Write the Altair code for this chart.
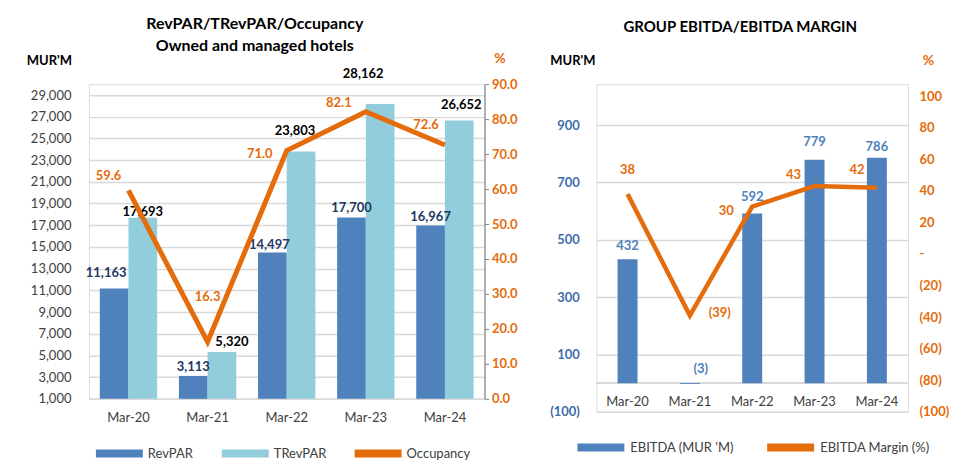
import altair as alt
import pandas as pd

# ---------------- data ----------------
periods = ["Mar-20", "Mar-21", "Mar-22", "Mar-23", "Mar-24"]
revpar = [11163, 3113, 14497, 17700, 16967]
trevpar = [17693, 5320, 23803, 28162, 26652]
occupancy = [59.6, 16.3, 71.0, 82.1, 72.6]
ebitda = [432, -3, 592, 779, 786]
ebitda_margin = [38, -39, 30, 43, 42]

FONT = "Lato"
BLUE = "#4F81BD"
LIGHT = "#92CDDC"
ORANGE = "#E46C0A"
GRID = "#D9D9D9"
NAVY = "#1F3864"
TEXT = "#404040"
AXBLUE = "#3F6DAA"
FS = 13

RECT = "M-1,-0.17H1V0.17H-1Z"


def paren(v):
    return f"({abs(v):,})" if v < 0 else f"{v:,}"


bars_df = pd.DataFrame(
    {
        "period": periods * 2,
        "series": ["RevPAR"] * 5 + ["TRevPAR"] * 5,
        "value": revpar + trevpar,
    }
)
bars_df["label"] = bars_df["value"].map(lambda v: f"{v:,}")
occ_df = pd.DataFrame({"period": periods, "occ": occupancy})
occ_df["label"] = occ_df["occ"].map(lambda v: f"{v:.1f}")

eb_df = pd.DataFrame({"period": periods, "ebitda": ebitda, "margin": ebitda_margin})
eb_df["elabel"] = eb_df["ebitda"].map(paren)
eb_df["mlabel"] = eb_df["margin"].map(paren)
eb_df["metric"] = "EBITDA (MUR 'M)"

lab_common = dict(font=FONT, fontSize=FS, fontWeight="bold", baseline="middle")

# ---------------- left panel ----------------
W1, H1 = 396, 315
xs1 = alt.Scale(domain=periods, paddingInner=0.275, paddingOuter=0.1375)
x1 = alt.X(
    "period:N",
    scale=xs1,
    sort=periods,
    title=None,
    axis=alt.Axis(
        labelAngle=0,
        labelFont=FONT,
        labelFontSize=FS,
        labelColor=TEXT,
        labelPadding=13,
        ticks=False,
        domainColor=GRID,
        domainWidth=1.5,
    ),
)
ys1 = alt.Scale(domain=[1000, 30000], zero=False, nice=False)
y1_axis = alt.Axis(
    values=list(range(1000, 30000, 2000)),
    tickCount=40,
    format=",d",
    labelOverlap=False,
    labelFont=FONT,
    labelFontSize=FS,
    labelColor=TEXT,
    labelPadding=18,
    ticks=False,
    domain=False,
    grid=True,
    gridColor=GRID,
    gridWidth=1.5,
    title="MUR'M",
    titleAngle=0,
    titleFont=FONT,
    titleFontSize=13,
    titleFontWeight="bold",
    titleColor="#000000",
    titleX=-40,
    titleY=-24,
    titleAlign="center",
    titleBaseline="middle",
)

color1 = alt.Color(
    "series:N",
    scale=alt.Scale(
        domain=["RevPAR", "TRevPAR", "Occupancy"], range=[BLUE, LIGHT, ORANGE]
    ),
    legend=alt.Legend(
        title=None,
        orient="none",
        direction="horizontal",
        legendX=7,
        legendY=346,
        symbolType=RECT,
        symbolSize=2209,
        symbolStrokeWidth=0,
        symbolOpacity=1,
        labelFont=FONT,
        labelFontSize=FS,
        labelColor=TEXT,
        labelOffset=5,
        columnPadding=28,
        padding=0,
    ),
)

base1 = alt.Chart(bars_df)
bars1 = base1.mark_bar().encode(
    x=x1,
    xOffset=alt.XOffset("series:N", sort=["RevPAR", "TRevPAR"]),
    y=alt.Y("value:Q", scale=ys1, axis=y1_axis),
    y2=alt.datum(1000),
    color=color1,
)

# label placement (styling): series, period, dx, dy
bar_label_spots = [
    ("RevPAR", "Mar-20", -8, -16),
    ("RevPAR", "Mar-21", 0, -9),
    ("RevPAR", "Mar-22", -3, -7),
    ("RevPAR", "Mar-23", 0, -10),
    ("RevPAR", "Mar-24", 0, -9),
    ("TRevPAR", "Mar-20", 0, -6),
    ("TRevPAR", "Mar-21", 10, -10),
    ("TRevPAR", "Mar-22", -6, -20),
    ("TRevPAR", "Mar-23", -17, -30),
    ("TRevPAR", "Mar-24", 2, -16),
]
bar_label_layers = []
for s, p, dx, dy in bar_label_spots:
    bar_label_layers.append(
        base1.transform_filter((alt.datum.series == s) & (alt.datum.period == p))
        .mark_text(color=NAVY if s == "RevPAR" else "#000000", dx=dx, dy=dy, **lab_common)
        .encode(
            x=alt.X("period:N", scale=xs1, sort=periods),
            xOffset=alt.XOffset("series:N", sort=["RevPAR", "TRevPAR"]),
            y=alt.Y("value:Q", scale=ys1, axis=y1_axis),
            text="label:N",
        )
    )
left_bars = alt.layer(bars1, *bar_label_layers)

ys1b = alt.Scale(domain=[0, 90], nice=False)
y1b_axis = alt.Axis(
    orient="right",
    values=list(range(0, 100, 10)),
    tickCount=40,
    format=".1f",
    labelOverlap=False,
    labelFont=FONT,
    labelFontSize=FS,
    labelFontWeight="bold",
    labelColor=ORANGE,
    labelPadding=3,
    ticks=True,
    tickSize=4,
    tickColor="#868686",
    domain=True,
    domainColor="#868686",
    domainWidth=1.2,
    grid=False,
    title="%",
    titleAngle=0,
    titleFont=FONT,
    titleFontSize=14,
    titleFontWeight="bold",
    titleColor=ORANGE,
    titleX=15,
    titleY=-26,
    titleAlign="center",
    titleBaseline="middle",
)
occ_base = alt.Chart(occ_df)
occ_line = occ_base.mark_line(color=ORANGE, strokeWidth=5).encode(
    x=alt.X("period:N", scale=xs1, sort=periods),
    y=alt.Y("occ:Q", scale=ys1b, axis=y1b_axis),
)

occ_label_spots = [
    ("Mar-20", -20, -14),
    ("Mar-21", 0, -45),
    ("Mar-22", -27, 3),
    ("Mar-23", -27, -9),
    ("Mar-24", -19, -20),
]
occ_layers = [occ_line]
for p, dx, dy in occ_label_spots:
    occ_layers.append(
        occ_base.transform_filter(alt.datum.period == p)
        .mark_text(color=ORANGE, dx=dx, dy=dy, **lab_common)
        .encode(
            x=alt.X("period:N", scale=xs1, sort=periods),
            y=alt.Y("occ:Q", scale=ys1b, axis=y1b_axis),
            text="label:N",
        )
    )
left_line = alt.layer(*occ_layers)

left = (
    alt.layer(left_bars, left_line)
    .resolve_scale(y="independent")
    .properties(
        width=W1,
        height=H1,
        title=alt.TitleParams(
            ["RevPAR/TRevPAR/Occupancy", "Owned and managed hotels"],
            font=FONT,
            fontSize=16,
            fontWeight="bold",
            color="#000000",
            anchor="middle",
            frame="group",
            dx=-32,
            offset=-3,
            lineHeight=22,
        ),
    )
)

# ---------------- right panel ----------------
W2, H2 = 312, 328
xs2 = alt.Scale(domain=periods, paddingInner=0.68, paddingOuter=0.34)
ys2 = alt.Scale(domain=[-100, 1043], nice=False, zero=False)
y2_axis = alt.Axis(
    values=list(range(-100, 1000, 200)),
    tickCount=40,
    labelExpr="datum.value < 0 ? '(' + format(-datum.value, ',') + ')' : format(datum.value, ',')",
    labelOverlap=False,
    labelFont=FONT,
    labelFontSize=FS,
    labelFontWeight="bold",
    labelColor=AXBLUE,
    labelPadding=17,
    ticks=False,
    domain=False,
    grid=True,
    gridColor=GRID,
    gridWidth=1.5,
    title="MUR'M",
    titleAngle=0,
    titleFont=FONT,
    titleFontSize=13,
    titleFontWeight="bold",
    titleColor="#000000",
    titleX=-24,
    titleY=-24,
    titleAlign="center",
    titleBaseline="middle",
)
eb_base = alt.Chart(eb_df)
x2 = alt.X("period:N", scale=xs2, sort=periods, axis=None)
eb_bars = eb_base.mark_bar().encode(
    x=x2,
    y=alt.Y("ebitda:Q", scale=ys2, axis=y2_axis),
    y2=alt.datum(0),
    color=alt.Color(
        "metric:N",
        scale=alt.Scale(
            domain=["EBITDA (MUR 'M)", "EBITDA Margin (%)"], range=[BLUE, ORANGE]
        ),
        legend=alt.Legend(
            title=None,
            orient="none",
            direction="horizontal",
            legendX=-19,
            legendY=340,
            symbolType=RECT,
            symbolSize=2209,
            symbolStrokeWidth=0,
            symbolOpacity=1,
            labelFont=FONT,
            labelFontSize=FS,
            labelColor=TEXT,
            labelOffset=6,
            columnPadding=33,
            padding=0,
        ),
    ),
)
zero_rule = eb_base.mark_rule(color=GRID, strokeWidth=1.5).encode(
    y=alt.datum(0, scale=ys2, axis=y2_axis)
)

eb_label_spots = [
    ("Mar-20", 0, -13),
    ("Mar-21", 11, -15),
    ("Mar-22", 0, -16),
    ("Mar-23", 0, -18),
    ("Mar-24", 0, -11),
]
right_bar_layers = [zero_rule, eb_bars]
for p, dx, dy in eb_label_spots:
    right_bar_layers.append(
        eb_base.transform_filter(alt.datum.period == p)
        .mark_text(color=BLUE, dx=dx, dy=dy, **lab_common)
        .encode(
            x=alt.X("period:N", scale=xs2, sort=periods),
            y=alt.Y("ebitda:Q", scale=ys2, axis=y2_axis),
            text="elabel:N",
        )
    )
x_labels = eb_base.mark_text(
    font=FONT, fontSize=FS, color=TEXT, baseline="middle", dy=19
).encode(
    x=alt.X("period:N", scale=xs2, sort=periods),
    y=alt.datum(0, scale=ys2, axis=y2_axis),
    text="period:N",
)
right_bar_layers.append(x_labels)
right_bars = alt.layer(*right_bar_layers)

ys2b = alt.Scale(domain=[-100, 107.6], nice=False, zero=False)
y2b_axis = alt.Axis(
    orient="right",
    values=list(range(-100, 101, 20)),
    tickCount=40,
    labelExpr="datum.value < 0 ? '(' + format(-datum.value, 'd') + ')' : (datum.value == 0 ? '-' : format(datum.value, 'd'))",
    labelOverlap=False,
    labelFont=FONT,
    labelFontSize=FS,
    labelFontWeight="bold",
    labelColor=ORANGE,
    labelPadding=11,
    ticks=False,
    domain=False,
    grid=False,
    title="%",
    titleAngle=0,
    titleFont=FONT,
    titleFontSize=14,
    titleFontWeight="bold",
    titleColor=ORANGE,
    titleX=20,
    titleY=-24,
    titleAlign="center",
    titleBaseline="middle",
)
m_line = eb_base.mark_line(color=ORANGE, strokeWidth=4.5).encode(
    x=alt.X("period:N", scale=xs2, sort=periods),
    y=alt.Y("margin:Q", scale=ys2b, axis=y2b_axis),
)
m_label_spots = [
    ("Mar-20", 0, -24),
    ("Mar-21", 30, -3),
    ("Mar-22", -26, 4),
    ("Mar-23", -21, -11),
    ("Mar-24", -20, -18),
]
m_layers = [m_line]
for p, dx, dy in m_label_spots:
    m_layers.append(
        eb_base.transform_filter(alt.datum.period == p)
        .mark_text(color=ORANGE, dx=dx, dy=dy, **lab_common)
        .encode(
            x=alt.X("period:N", scale=xs2, sort=periods),
            y=alt.Y("margin:Q", scale=ys2b, axis=y2b_axis),
            text="mlabel:N",
        )
    )
right_line = alt.layer(*m_layers)

right = (
    alt.layer(right_bars, right_line)
    .resolve_scale(y="independent")
    .properties(
        width=W2,
        height=H2,
        title=alt.TitleParams(
            "GROUP EBITDA/EBITDA MARGIN",
            font=FONT,
            fontSize=15,
            fontWeight="bold",
            color="#000000",
            anchor="middle",
            frame="group",
            dx=-12,
            offset=18,
        ),
    )
)

chart = (
    alt.hconcat(left, right, spacing=30)
    .resolve_scale(color="independent")
    .properties(padding={"left": 17, "top": 7, "right": 0, "bottom": 0})
    .configure_view(stroke=None)
    .configure_axis(labelOverlap=False)
    .configure(background="#ffffff")
)

chart.save("out.html", embed_options={"renderer": "svg", "actions": False})
